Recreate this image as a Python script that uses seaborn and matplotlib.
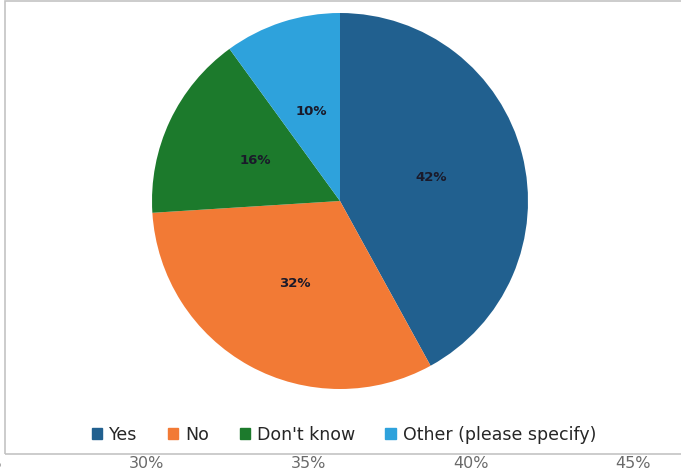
import matplotlib
matplotlib.use("Agg")
import matplotlib.pyplot as plt
from matplotlib.patches import Rectangle
import seaborn as sns

# Survey responses (share of respondents, %)
categories = ["Yes", "No", "Don't know", "Other (please specify)"]
shares = [42, 32, 16, 10]
slice_colors = ["#21608f", "#f27a35", "#1c7a2c", "#2ea2dc"]

# Value axis of the neighbouring chart shown underneath
axis_values = [25, 30, 35, 40, 45]
axis_labels = ["25%", "30%", "35%", "40%", "45%"]

sns.set_theme(style="white")
plt.rcParams["font.family"] = ["DejaVu Sans"]
palette = sns.color_palette(slice_colors)

W, H = 681, 475
fig = plt.figure(figsize=(W / 100, H / 100), dpi=100)
fig.patch.set_facecolor("white")

def px_rect(x0, y0, x1, y1):
    """Convert a pixel box (top-left origin) to figure fractions."""
    return [x0 / W, 1 - y1 / H, (x1 - x0) / W, (y1 - y0) / H]

# Chart-area border
fig.patches.append(Rectangle((5 / W, 1 - 454 / H), 700 / W, 453 / H,
                             transform=fig.transFigure, fill=False,
                             edgecolor="#c3c3c3", linewidth=1.2))

# Pie
cx, cy, r = 340, 201, 188
ax = fig.add_axes(px_rect(cx - r, cy - r, cx + r, cy + r))
wedges, texts, autotexts = ax.pie(
    shares, colors=palette, startangle=90, counterclock=False,
    autopct=lambda p: f"{p:.0f}%", pctdistance=0.5, radius=1.0,
    wedgeprops=dict(linewidth=0),
    textprops=dict(fontsize=9.5, fontweight="bold", color="#1a1a2a"))
ax.set_xlim(-1, 1)
ax.set_ylim(-1, 1)
ax.set_aspect("equal")
ax.axis("off")

# Legend row
handles = [plt.Rectangle((0, 0), 1, 1, color=c) for c in palette]
fig.legend(handles, categories, loc="center", ncol=4,
           bbox_to_anchor=(344 / W, 1 - 435 / H), frameon=False,
           fontsize=12.5, handlelength=0.6, handleheight=0.6,
           handletextpad=0.4, columnspacing=1.75,
           labelcolor="#262626")

# Value axis peeking in below the chart
axb = fig.add_axes(px_rect(-40, 454, 681, 455))
axb.set_xlim(24.23, 46.48)
axb.set_ylim(0, 1)
axb.set_xticks(axis_values)
axb.set_xticklabels(axis_labels, fontsize=11.5, color="#6a6a6a")
axb.tick_params(axis="x", length=0, pad=1)
axb.set_yticks([])
for s in axb.spines.values():
    s.set_visible(False)
axb.patch.set_alpha(0)

fig.savefig("out.png", dpi=100, facecolor="white")
